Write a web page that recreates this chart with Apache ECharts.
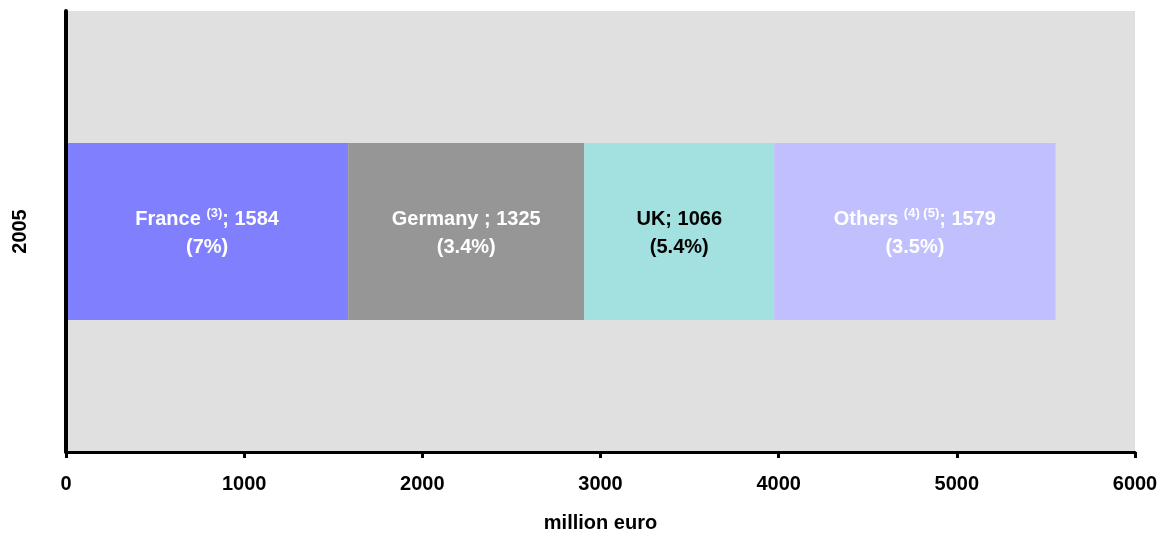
<!DOCTYPE html>
<html>
<head>
<meta charset="utf-8">
<script src="https://cdn.jsdelivr.net/npm/echarts@6/dist/echarts.min.js"></script>
<style>
  html, body { margin: 0; padding: 0; background: #ffffff; }
  #chart { width: 1168px; height: 534px; }
</style>
</head>
<body>
<div id="chart"></div>
<script>
// Year shown on the category axis
const years = ['2005'];
// Country segments of the stacked bar
const countries = ['France', 'Germany ', 'UK', 'Others'];
const notes = ['(3)', '', '', '(4) (5)'];
const values = [1584, 1325, 1066, 1579];
const shares = ['7%', '3.4%', '5.4%', '3.5%'];
// X axis scale (million euro)
const xMin = 0, xMax = 6000, xStep = 1000;

const colors = ['#8080ff', '#969696', '#a3e0e0', '#c0c0ff'];
const labelColors = ['#ffffff', '#ffffff', '#000000', '#ffffff'];
const FONT = '"Liberation Sans", Arial, sans-serif';

const chart = echarts.init(document.getElementById('chart'), null, { renderer: 'canvas' });

const series = countries.map((name, i) => ({
  name: name,
  type: 'bar',
  stack: 'total',
  barWidth: 177,
  data: [values[i]],
  itemStyle: { color: colors[i] },
  label: {
    show: true,
    position: 'inside',
    offset: [0, 2],
    formatter: () => {
      const head = notes[i] ? '{main|' + name + ' }{sup|' + notes[i] + '}' : '{main|' + name + '}';
      return head + '{main|; ' + values[i] + '}\n{main|(' + shares[i] + ')}';
    },
    rich: {
      main: { fontFamily: FONT, fontWeight: 'bold', fontSize: 20, color: labelColors[i], lineHeight: 28 },
      sup: { fontFamily: FONT, fontWeight: 'bold', fontSize: 13, color: labelColors[i], lineHeight: 28, padding: [0, 0, 12, 0] }
    }
  }
}));

chart.setOption({
  animation: false,
  grid: {
    left: 66, right: 33, top: 11, bottom: 82,
    outerBoundsMode: 'none',
    containLabel: false,
    show: true, backgroundColor: '#e0e0e0', borderWidth: 0
  },
  xAxis: {
    type: 'value',
    min: xMin, max: xMax, interval: xStep,
    name: 'million euro',
    nameLocation: 'middle',
    nameGap: 61,
    nameTextStyle: { fontFamily: FONT, fontWeight: 'bold', fontSize: 20, color: '#000' },
    axisLine: { show: true, lineStyle: { color: '#000', width: 3 } },
    axisTick: { show: true, length: 6, lineStyle: { color: '#000', width: 3 } },
    axisLabel: {
      fontFamily: FONT, fontWeight: 'bold', fontSize: 20, color: '#000', margin: 22,
      formatter: v => String(v)
    },
    splitLine: { show: false }
  },
  yAxis: {
    type: 'category',
    data: years,
    z: 5,
    axisLine: { show: true, lineStyle: { color: '#000', width: 4 } },
    axisTick: { show: false },
    axisLabel: { rotate: 90, fontFamily: FONT, fontWeight: 'bold', fontSize: 20, color: '#000', margin: 36 },
    splitLine: { show: false }
  },
  series: series
});
</script>
</body>
</html>
